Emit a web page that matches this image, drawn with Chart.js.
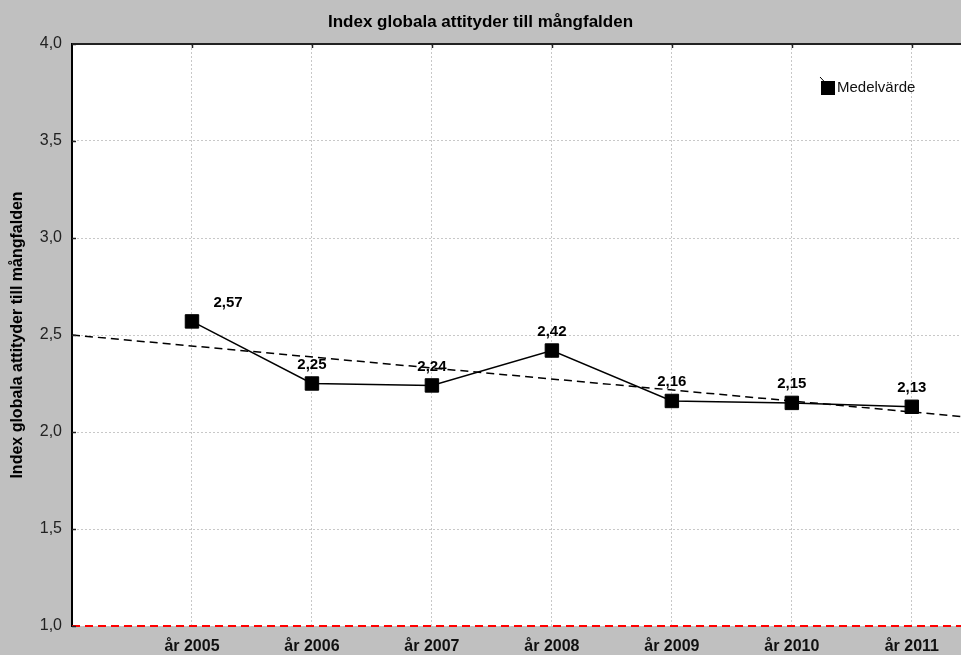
<!DOCTYPE html>
<html lang="sv">
<head>
    <meta charset="UTF-8">
    <title>Index globala attityder till mångfalden</title>
    <script src="https://cdn.jsdelivr.net/npm/chart.js"></script>
    <style>
        html, body { margin: 0; padding: 0; background: #c0c0c0; overflow: hidden; }
        #wrap { width: 961px; height: 655px; }
        canvas { display: block; }
    </style>
</head>
<body>
    <div id="wrap"><canvas id="myChart" width="961" height="655"></canvas></div>

    <script>
        // data
        const years = [2005, 2006, 2007, 2008, 2009, 2010, 2011];
        const xTickLabels = ['år 2005', 'år 2006', 'år 2007', 'år 2008', 'år 2009', 'år 2010', 'år 2011'];
        const medelvarde = [2.57, 2.25, 2.24, 2.42, 2.16, 2.15, 2.13];
        const trendX = [2004, 2011.41];
        const trendY = [2.50, 2.08];
        const baselineY = 1.0;
        const yTicks = [1.0, 1.5, 2.0, 2.5, 3.0, 3.5, 4.0];

        const FONT = "'Liberation Sans', Arial, sans-serif";
        const fmt = v => v.toFixed(2).replace('.', ',');

        const frame = {
            id: 'frame',
            beforeDraw(chart) {
                const a = chart.chartArea, c = chart.ctx;
                c.save();
                c.fillStyle = '#ffffff';
                c.fillRect(a.left, a.top, a.right - a.left, a.bottom - a.top);
                c.restore();
            },
            afterDraw(chart) {
                const a = chart.chartArea, c = chart.ctx;
                const xs = chart.scales.x, ys = chart.scales.y;
                c.save();
                c.strokeStyle = '#222';
                c.lineWidth = 2;
                c.beginPath();
                c.moveTo(a.left, a.top);
                c.lineTo(a.right, a.top);
                c.stroke();
                c.lineWidth = 1.5;
                years.forEach(yr => {
                    const px = Math.round(xs.getPixelForValue(yr)) + 0.5;
                    c.beginPath();
                    c.moveTo(px, a.top);
                    c.lineTo(px, a.top + 4);
                    c.stroke();
                });
                yTicks.forEach(v => {
                    const py = Math.round(ys.getPixelForValue(v)) + 0.5;
                    c.beginPath();
                    c.moveTo(a.left, py);
                    c.lineTo(a.left + 4, py);
                    c.stroke();
                });

                // legend
                c.strokeStyle = '#000';
                c.lineWidth = 1;
                c.beginPath();
                c.moveTo(820, 77);
                c.lineTo(835, 93);
                c.stroke();
                c.fillStyle = '#000';
                c.fillRect(821, 81, 14, 14);
                c.fillStyle = '#111';
                c.font = '15px ' + FONT;
                c.textAlign = 'left';
                c.textBaseline = 'middle';
                c.fillText('Medelvärde', 837, 88);
                c.restore();
            }
        };

        const valueLabels = {
            id: 'valueLabels',
            afterDatasetsDraw(chart) {
                const c = chart.ctx;
                const meta = chart.getDatasetMeta(0);
                c.save();
                c.font = 'bold 15px ' + FONT;
                c.fillStyle = '#000';
                c.textAlign = 'center';
                c.textBaseline = 'middle';
                meta.data.forEach((pt, i) => {
                    const dx = i === 0 ? 36 : 0;
                    c.fillText(fmt(medelvarde[i]), pt.x + dx, pt.y - 19);
                });
                c.restore();
            }
        };

        const ctx = document.getElementById('myChart').getContext('2d');
        const myChart = new Chart(ctx, {
            type: 'line',
            data: {
                datasets: [{
                    label: 'Medelvärde',
                    data: years.map((y, i) => ({ x: y, y: medelvarde[i] })),
                    borderColor: '#000',
                    backgroundColor: '#000',
                    borderWidth: 1.5,
                    pointStyle: 'rect',
                    pointRadius: 9.5,
                    pointBorderWidth: 1,
                    tension: 0,
                    order: 1
                }, {
                    label: 'trend',
                    data: trendX.map((x, i) => ({ x: x, y: trendY[i] })),
                    borderColor: '#000',
                    borderWidth: 1.5,
                    borderDash: [8, 5],
                    pointRadius: 0,
                    order: 2
                }, {
                    label: 'bas',
                    data: trendX.map(x => ({ x: x, y: baselineY })),
                    borderColor: '#ff0000',
                    borderWidth: 2,
                    borderDash: [8, 5],
                    pointRadius: 0,
                    clip: false,
                    order: 0
                }]
            },
            options: {
                responsive: false,
                animation: false,
                layout: { padding: 0, autoPadding: false },
                plugins: {
                    legend: { display: false },
                    tooltip: { enabled: false },
                    title: {
                        display: true,
                        text: 'Index globala attityder till mångfalden',
                        color: '#000',
                        font: { family: FONT, size: 17, weight: 'bold' },
                        padding: { top: 12, bottom: 11.6 }
                    }
                },
                scales: {
                    x: {
                        type: 'linear',
                        min: trendX[0],
                        max: trendX[1],
                        afterBuildTicks: scale => {
                            scale.ticks = [trendX[0]].concat(years).map(v => ({ value: v }));
                        },
                        afterFit: scale => {
                            scale.height = 29;
                            scale.paddingLeft = 0;
                            scale.paddingRight = 0;
                        },
                        ticks: {
                            autoSkip: false,
                            maxRotation: 0,
                            padding: 11,
                            color: '#111',
                            font: { family: FONT, size: 16, weight: 'bold' },
                            callback: v => {
                                const i = years.indexOf(v);
                                return i < 0 ? '' : xTickLabels[i];
                            }
                        },
                        grid: { color: '#c8c8c8', lineWidth: 1, drawTicks: false },
                        border: { display: false, dash: [2, 2] }
                    },
                    y: {
                        min: yTicks[0],
                        max: yTicks[yTicks.length - 1],
                        afterBuildTicks: scale => {
                            scale.ticks = yTicks.map(v => ({ value: v }));
                        },
                        afterFit: scale => { scale.width = 72; },
                        ticks: {
                            padding: 10,
                            color: '#222',
                            font: { family: FONT, size: 16 },
                            callback: v => v.toFixed(1).replace('.', ',')
                        },
                        grid: { color: '#c8c8c8', lineWidth: 1, drawTicks: false },
                        border: { display: true, color: '#000', width: 2, dash: [2, 2] },
                        title: {
                            display: true,
                            text: 'Index globala attityder till mångfalden',
                            color: '#000',
                            font: { family: FONT, size: 16, weight: 'bold' },
                            padding: { top: 8, bottom: 0 }
                        }
                    }
                }
            },
            plugins: [frame, valueLabels]
        });
    </script>
</body>
</html>
